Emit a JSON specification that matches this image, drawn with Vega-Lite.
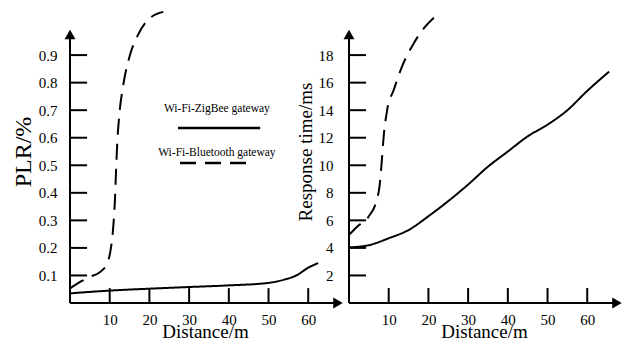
{
  "$schema": "https://vega.github.io/schema/vega-lite/v6.json",
  "padding": {"left": 11, "top": 0, "right": 0, "bottom": 0},
  "background": "white",
  "spacing": 9,
  "bounds": "flush",
  "config": {
    "view": {"stroke": null},
    "font": "Liberation Serif",
    "axis": {
      "domain": false,
      "grid": false,
      "ticks": false,
      "labelColor": "black",
      "labelOverlap": false,
      "labelFont": "Liberation Serif",
      "labelFontSize": 15,
      "titleFont": "Liberation Serif",
      "titleFontWeight": "normal",
      "titleColor": "black"
    }
  },
  "datasets": {
    "plr": [
      {"x": 0, "y": 0.035, "gw": "ZigBee"},
      {"x": 10, "y": 0.045, "gw": "ZigBee"},
      {"x": 20, "y": 0.052, "gw": "ZigBee"},
      {"x": 30, "y": 0.058, "gw": "ZigBee"},
      {"x": 40, "y": 0.064, "gw": "ZigBee"},
      {"x": 50, "y": 0.073, "gw": "ZigBee"},
      {"x": 54, "y": 0.085, "gw": "ZigBee"},
      {"x": 57, "y": 0.1, "gw": "ZigBee"},
      {"x": 60, "y": 0.128, "gw": "ZigBee"},
      {"x": 62.5, "y": 0.145, "gw": "ZigBee"},
      {"x": 0, "y": 0.053, "gw": "Bluetooth"},
      {"x": 3, "y": 0.08, "gw": "Bluetooth"},
      {"x": 5, "y": 0.095, "gw": "Bluetooth"},
      {"x": 7.5, "y": 0.112, "gw": "Bluetooth"},
      {"x": 9.2, "y": 0.14, "gw": "Bluetooth"},
      {"x": 10.2, "y": 0.19, "gw": "Bluetooth"},
      {"x": 10.8, "y": 0.26, "gw": "Bluetooth"},
      {"x": 11.3, "y": 0.37, "gw": "Bluetooth"},
      {"x": 11.6, "y": 0.48, "gw": "Bluetooth"},
      {"x": 11.9, "y": 0.58, "gw": "Bluetooth"},
      {"x": 12.4, "y": 0.68, "gw": "Bluetooth"},
      {"x": 13.4, "y": 0.79, "gw": "Bluetooth"},
      {"x": 15.1, "y": 0.9, "gw": "Bluetooth"},
      {"x": 17, "y": 0.97, "gw": "Bluetooth"},
      {"x": 19.8, "y": 1.03, "gw": "Bluetooth"},
      {"x": 23.5, "y": 1.057, "gw": "Bluetooth"}
    ],
    "rt": [
      {"x": 0, "y": 4.04, "gw": "ZigBee"},
      {"x": 5, "y": 4.2, "gw": "ZigBee"},
      {"x": 10, "y": 4.7, "gw": "ZigBee"},
      {"x": 15, "y": 5.3, "gw": "ZigBee"},
      {"x": 20, "y": 6.3, "gw": "ZigBee"},
      {"x": 25, "y": 7.4, "gw": "ZigBee"},
      {"x": 30, "y": 8.6, "gw": "ZigBee"},
      {"x": 35, "y": 9.9, "gw": "ZigBee"},
      {"x": 40, "y": 11.0, "gw": "ZigBee"},
      {"x": 45, "y": 12.1, "gw": "ZigBee"},
      {"x": 50, "y": 12.95, "gw": "ZigBee"},
      {"x": 55, "y": 14.0, "gw": "ZigBee"},
      {"x": 60, "y": 15.4, "gw": "ZigBee"},
      {"x": 65.5, "y": 16.8, "gw": "ZigBee"},
      {"x": 0, "y": 4.95, "gw": "Bluetooth"},
      {"x": 2.1, "y": 5.56, "gw": "Bluetooth"},
      {"x": 5, "y": 6.3, "gw": "Bluetooth"},
      {"x": 6.9, "y": 7.4, "gw": "Bluetooth"},
      {"x": 7.7, "y": 8.5, "gw": "Bluetooth"},
      {"x": 8.2, "y": 10.1, "gw": "Bluetooth"},
      {"x": 8.8, "y": 12.3, "gw": "Bluetooth"},
      {"x": 9.6, "y": 14.0, "gw": "Bluetooth"},
      {"x": 11.3, "y": 15.5, "gw": "Bluetooth"},
      {"x": 13.4, "y": 17.2, "gw": "Bluetooth"},
      {"x": 16.4, "y": 18.9, "gw": "Bluetooth"},
      {"x": 19.3, "y": 20.1, "gw": "Bluetooth"},
      {"x": 22.7, "y": 21.05, "gw": "Bluetooth"}
    ],
    "axesL": [
      {"x": 0, "x2": 0, "y": 0, "y2": 0.975},
      {"x": 0, "x2": 67.5, "y": 0, "y2": 0},
      {"x": 10, "x2": 10, "y": 0, "y2": 0.054},
      {"x": 20, "x2": 20, "y": 0, "y2": 0.054},
      {"x": 30, "x2": 30, "y": 0, "y2": 0.054},
      {"x": 40, "x2": 40, "y": 0, "y2": 0.054},
      {"x": 50, "x2": 50, "y": 0, "y2": 0.054},
      {"x": 60, "x2": 60, "y": 0, "y2": 0.054},
      {"x": 0, "x2": 4.3, "y": 0.1, "y2": 0.1},
      {"x": 0, "x2": 4.3, "y": 0.2, "y2": 0.2},
      {"x": 0, "x2": 4.3, "y": 0.3, "y2": 0.3},
      {"x": 0, "x2": 4.3, "y": 0.4, "y2": 0.4},
      {"x": 0, "x2": 4.3, "y": 0.5, "y2": 0.5},
      {"x": 0, "x2": 4.3, "y": 0.6, "y2": 0.6},
      {"x": 0, "x2": 4.3, "y": 0.7, "y2": 0.7},
      {"x": 0, "x2": 4.3, "y": 0.8, "y2": 0.8},
      {"x": 0, "x2": 4.3, "y": 0.9, "y2": 0.9}
    ],
    "arrowsL": [
      {"x": 0, "y": 0.975, "shape": "triangle-up"},
      {"x": 67.5, "y": 0, "shape": "triangle-right"}
    ],
    "axesR": [
      {"x": 0, "x2": 0, "y": 0, "y2": 19.5},
      {"x": 0, "x2": 67.5, "y": 0, "y2": 0},
      {"x": 10, "x2": 10, "y": 0, "y2": 1.09},
      {"x": 20, "x2": 20, "y": 0, "y2": 1.09},
      {"x": 30, "x2": 30, "y": 0, "y2": 1.09},
      {"x": 40, "x2": 40, "y": 0, "y2": 1.09},
      {"x": 50, "x2": 50, "y": 0, "y2": 1.09},
      {"x": 60, "x2": 60, "y": 0, "y2": 1.09},
      {"x": 0, "x2": 4.3, "y": 2, "y2": 2},
      {"x": 0, "x2": 4.3, "y": 4, "y2": 4},
      {"x": 0, "x2": 4.3, "y": 6, "y2": 6},
      {"x": 0, "x2": 4.3, "y": 8, "y2": 8},
      {"x": 0, "x2": 4.3, "y": 10, "y2": 10},
      {"x": 0, "x2": 4.3, "y": 12, "y2": 12},
      {"x": 0, "x2": 4.3, "y": 14, "y2": 14},
      {"x": 0, "x2": 4.3, "y": 16, "y2": 16},
      {"x": 0, "x2": 4.3, "y": 18, "y2": 18}
    ],
    "arrowsR": [
      {"x": 0, "y": 19.5, "shape": "triangle-up"},
      {"x": 67.5, "y": 0, "shape": "triangle-right"}
    ],
    "legText": [
      {"label": "Wi-Fi-ZigBee gateway", "x": 37, "y": 0.704},
      {"label": "Wi-Fi-Bluetooth gateway", "x": 37, "y": 0.544}
    ],
    "legLine": [
      {"gw": "ZigBee", "x": 27.2, "x2": 47.9, "y": 0.635},
      {"gw": "Bluetooth", "x": 27.7, "x2": 45.3, "y": 0.508}
    ]
  },
  "hconcat": [
    {
      "width": 270,
      "height": 303,
      "encoding": {
        "x": {"field": "x", "type": "quantitative", "scale": {"domain": [0, 68]},
          "axis": {"values": [10, 20, 30, 40, 50, 60], "labelPadding": 9, "title": "Distance/m", "titleFontSize": 19, "titlePadding": -5}},
        "y": {"field": "y", "type": "quantitative", "scale": {"domain": [0, 1.1]},
          "axis": {"values": [0.1, 0.2, 0.3, 0.4, 0.5, 0.6, 0.7, 0.8, 0.9], "format": ".1f", "labelPadding": 13, "title": "PLR/%", "titleFontSize": 24, "titlePadding": 3}}
      },
      "layer": [
        {
          "data": {"name": "axesL"},
          "mark": {"type": "rule", "color": "black", "strokeWidth": 2},
          "encoding": {"x2": {"field": "x2"}, "y2": {"field": "y2"}}
        },
        {
          "data": {"name": "arrowsL"},
          "mark": {"type": "point", "filled": true, "color": "black", "size": 120, "opacity": 1},
          "encoding": {
            "shape": {"field": "shape", "type": "nominal", "scale": null, "legend": null}
          }
        },
        {
          "data": {"name": "plr"},
          "mark": {"type": "line", "interpolate": "monotone", "strokeWidth": 2, "color": "black"},
          "encoding": {
            "strokeDash": {"field": "gw", "type": "nominal", "scale": {"domain": ["ZigBee", "Bluetooth"], "range": [[1, 0], [16, 9]]}, "legend": null}
          }
        },
        {
          "data": {"name": "legLine"},
          "mark": {"type": "rule", "color": "black", "strokeWidth": 2.5},
          "encoding": {
            "x2": {"field": "x2"},
            "strokeDash": {"field": "gw", "type": "nominal", "scale": {"domain": ["ZigBee", "Bluetooth"], "range": [[1, 0], [15, 12]]}, "legend": null}
          }
        },
        {
          "data": {"name": "legText"},
          "mark": {"type": "text", "font": "Liberation Serif", "fontSize": 11.5, "color": "black", "align": "center", "baseline": "middle"},
          "encoding": {"text": {"field": "label"}}
        }
      ]
    },
    {
      "width": 270,
      "height": 303,
      "encoding": {
        "x": {"field": "x", "type": "quantitative", "scale": {"domain": [0, 68]},
          "axis": {"values": [10, 20, 30, 40, 50, 60], "labelPadding": 9, "title": "Distance/m", "titleFontSize": 19, "titlePadding": -5}},
        "y": {"field": "y", "type": "quantitative", "scale": {"domain": [0, 22]},
          "axis": {"values": [2, 4, 6, 8, 10, 12, 14, 16, 18], "labelPadding": 16, "title": "Response time/ms", "titleFontSize": 19, "titlePadding": 3}}
      },
      "layer": [
        {
          "data": {"name": "axesR"},
          "mark": {"type": "rule", "color": "black", "strokeWidth": 2},
          "encoding": {"x2": {"field": "x2"}, "y2": {"field": "y2"}}
        },
        {
          "data": {"name": "arrowsR"},
          "mark": {"type": "point", "filled": true, "color": "black", "size": 120, "opacity": 1},
          "encoding": {
            "shape": {"field": "shape", "type": "nominal", "scale": null, "legend": null}
          }
        },
        {
          "data": {"name": "rt"},
          "mark": {"type": "line", "interpolate": "monotone", "strokeWidth": 2, "color": "black"},
          "encoding": {
            "strokeDash": {"field": "gw", "type": "nominal", "scale": {"domain": ["ZigBee", "Bluetooth"], "range": [[1, 0], [16, 9]]}, "legend": null}
          }
        }
      ]
    }
  ]
}
